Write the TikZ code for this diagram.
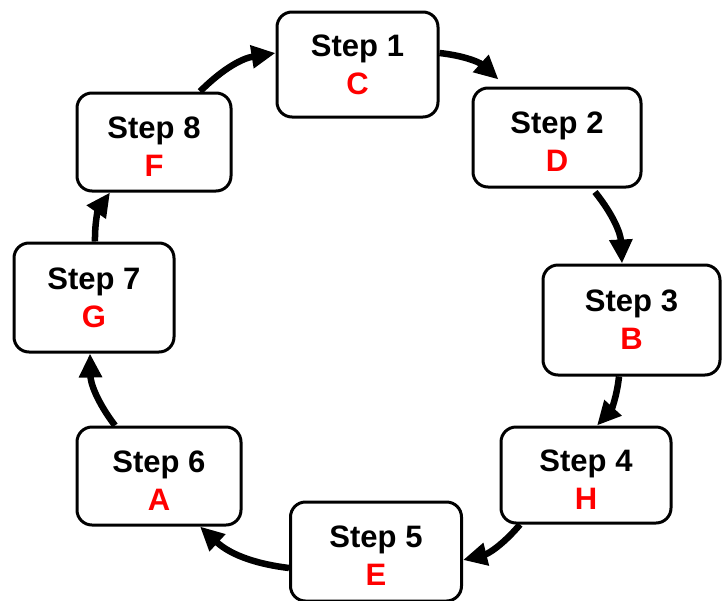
\documentclass[tikz,border=0pt]{standalone}
\usepackage{fontspec}
\setmainfont{Liberation Sans}
\usetikzlibrary{arrows.meta}
\newcommand{\stepup}{\rule{0pt}{30pt}}
\begin{document}
\begin{tikzpicture}[x=1pt,y=-1pt,
  stepbox/.style={draw=black, line width=3pt, rounded corners=15pt, fill=white,
    inner sep=0pt, align=center, font=\fontsize{31}{38}\selectfont\bfseries},
  flow/.style={line width=6.5pt, -{Triangle[length=24pt,width=22pt]}, bend left=18}
]
\useasboundingbox (0,0) rectangle (723,600);
\node[stepbox, minimum width=161pt, minimum height=105pt] (s1) at (357.5,64.5) {Step 1\\\textcolor{red}{C}};
\node[stepbox, minimum width=168pt, minimum height=99pt] (s2) at (557,137.5) {\stepup Step 2\\\textcolor{red}{D}};
\node[stepbox, minimum width=177pt, minimum height=110pt] (s3) at (631.5,320) {Step 3\\\textcolor{red}{B}};
\node[stepbox, minimum width=170pt, minimum height=96pt] (s4) at (586,475) {\stepup Step 4\\\textcolor{red}{H}};
\node[stepbox, minimum width=171pt, minimum height=99pt] (s5) at (376,551.5) {\stepup Step 5\\\textcolor{red}{E}};
\node[stepbox, minimum width=164pt, minimum height=98pt] (s6) at (159,476) {\stepup Step 6\\\textcolor{red}{A}};
\node[stepbox, minimum width=160pt, minimum height=109pt] (s7) at (94,297.5) {Step 7\\\textcolor{red}{G}};
\node[stepbox, minimum width=154pt, minimum height=98pt] (s8) at (154,142) {\stepup Step 8\\\textcolor{red}{F}};

\draw[flow] ([yshift=11.5pt]s1.east) to ([xshift=27pt,yshift=7pt]s2.north west);
\draw[flow] ([xshift=38pt,yshift=-3.5pt]s2.south) to ([xshift=-9.5pt]s3.north);
\draw[flow] ([xshift=-12.5pt]s3.south) to ([xshift=11pt]s4.north);
\draw[flow] ([xshift=-66pt]s4.south) to ([yshift=-8.5pt]s5.east);
\draw[flow] ([yshift=-16.5pt]s5.west) to ([xshift=41pt]s6.south);
\draw[flow] ([xshift=-44pt]s6.north) to ([xshift=-4pt]s7.south);
\draw[flow] ([xshift=1pt]s7.north) to ([xshift=-44pt]s8.south);
\draw[flow] ([xshift=46pt]s8.north) to ([yshift=11.5pt]s1.west);
\end{tikzpicture}
\end{document}
